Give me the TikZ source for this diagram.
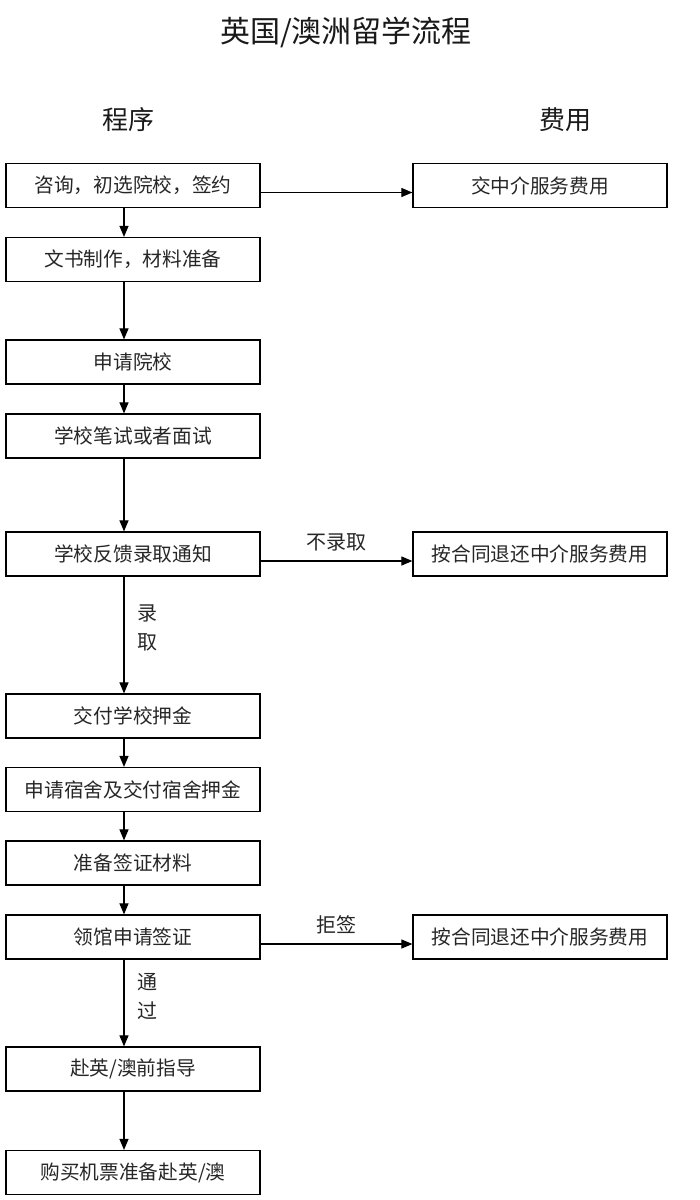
\documentclass[tikz,border=0pt]{standalone}
\usepackage{fontspec}
\setmainfont{Noto Sans CJK SC}
\usetikzlibrary{arrows.meta}
\begin{document}
\begin{tikzpicture}[x=1pt,y=-1pt]
	\tikzstyle{Lepes} = [rectangle, minimum width=254pt, minimum height=44pt, text centered, draw=black, line width=1.2pt, text=black!85, font=\fontsize{19.7}{23}\selectfont]
	\tikzstyle{Koltseg} = [Lepes]
	\tikzstyle{Felirat} = [text=black!85, font=\fontsize{20}{29}\selectfont, align=center]
	\tikzstyle{Fejlec} = [text=black!90, font=\fontsize{26}{31}\selectfont]
	\tikzstyle{arrow} = [line width=1.1pt, -{Triangle[length=11pt, width=9pt]}]
	
	\useasboundingbox (0,0) rectangle (700,1200);
	\node (cim) [text=black!90, font=\fontsize{30}{36}\selectfont] at (346,32) {英国/澳洲留学流程};
	\node (program) [Fejlec] at (128,120) {程序};
	\node (dij) [Fejlec] at (565,120) {费用};
	
	\node (b1) [Lepes] at (133,185.5) {咨询，初选院校，签约};
	\node (b2) [Lepes] at (133,259.5) {文书制作，材料准备};
	\node (b3) [Lepes] at (133,362) {申请院校};
	\node (b4) [Lepes] at (133,436) {学校笔试或者面试};
	\node (b5) [Lepes] at (133,554) {学校反馈录取通知};
	\node (b6) [Lepes] at (133,716) {交付学校押金};
	\node (b7) [Lepes] at (133,789.5) {申请宿舍及交付宿舍押金};
	\node (b8) [Lepes] at (133,863) {准备签证材料};
	\node (b9) [Lepes] at (133,937) {领馆申请签证};
	\node (b10) [Lepes] at (133,1069) {赴英/澳前指导};
	\node (b11) [Lepes] at (133,1172.5) {购买机票准备赴英/澳};
	
	\node (r1) [Koltseg] at (540,185.5) {交中介服务费用};
	\node (r2) [Koltseg] at (540,554) {按合同退还中介服务费用};
	\node (r3) [Koltseg] at (540,937) {按合同退还中介服务费用};
	
	\draw [arrow] ([xshift=-9pt]b1.south) -- ([xshift=-9pt]b2.north);
	\draw [arrow] ([xshift=-9pt]b2.south) -- ([xshift=-9pt]b3.north);
	\draw [arrow] ([xshift=-9pt]b3.south) -- ([xshift=-9pt]b4.north);
	\draw [arrow] ([xshift=-9pt]b4.south) -- ([xshift=-9pt]b5.north);
	\draw [arrow] ([xshift=-9pt]b5.south) -- node [Felirat, right=10pt, pos=0.44] {录\\取} ([xshift=-9pt]b6.north);
	\draw [arrow] ([xshift=-9pt]b6.south) -- ([xshift=-9pt]b7.north);
	\draw [arrow] ([xshift=-9pt]b7.south) -- ([xshift=-9pt]b8.north);
	\draw [arrow] ([xshift=-9pt]b8.south) -- ([xshift=-9pt]b9.north);
	\draw [arrow] ([xshift=-9pt]b9.south) -- node [Felirat, right=10pt, pos=0.43] {通\\过} ([xshift=-9pt]b10.north);
	\draw [arrow] ([xshift=-9pt]b10.south) -- ([xshift=-9pt]b11.north);
	
	\draw [arrow] ([yshift=-7pt]b1.east) -- ([yshift=-7pt]r1.west);
	\draw [arrow] ([yshift=-7pt]b5.east) -- node [Felirat, above=6pt] {不录取} ([yshift=-7pt]r2.west);
	\draw [arrow] ([yshift=-7pt]b9.east) -- node [Felirat, above=6pt] {拒签} ([yshift=-7pt]r3.west);
\end{tikzpicture}
\end{document}
